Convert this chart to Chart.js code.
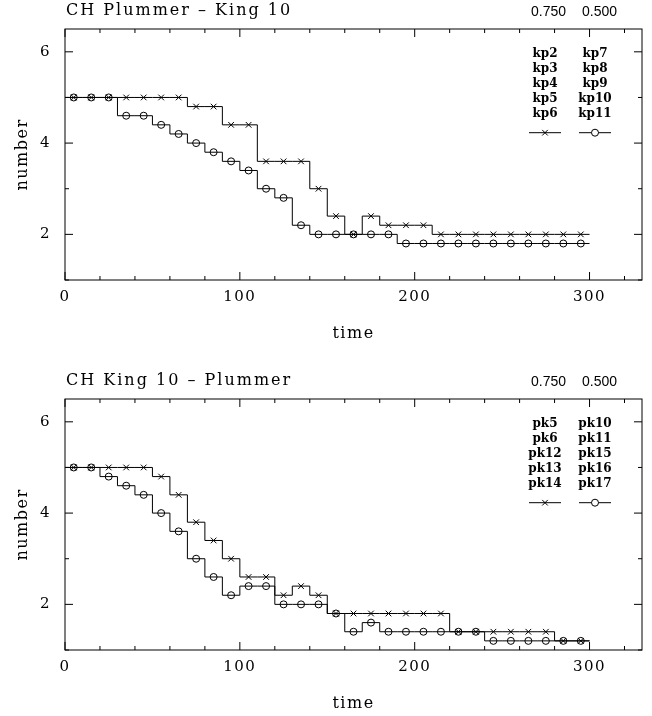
<!DOCTYPE html>
<html>
<head>
<meta charset="utf-8">
<title>CH Plummer - King 10</title>
<script src="https://cdn.jsdelivr.net/npm/chart.js"></script>
<style>
  body { margin: 0; background: #fff; }
  .panel { position: absolute; left: 0; width: 652px; height: 346px; }
</style>
</head>
<body>
<div class="panel" style="top:0"><canvas id="chartTop" width="652" height="346"></canvas></div>
<div class="panel" style="top:370px"><canvas id="chartBottom" width="652" height="346"></canvas></div>
<script>
// bin centres on the time axis, one value per 10-unit bin
const time = [5, 15, 25, 35, 45, 55, 65, 75, 85, 95, 105, 115, 125, 135, 145,
  155, 165, 175, 185, 195, 205, 215, 225, 235, 245, 255, 265, 275, 285, 295];
const binWidth = 10;

// CH Plummer - King 10
const kpCross = [5, 5, 5, 5, 5, 5, 5, 4.8, 4.8, 4.4, 4.4, 3.6, 3.6, 3.6, 3.0,
  2.4, 2.0, 2.4, 2.2, 2.2, 2.2, 2.0, 2.0, 2.0, 2.0, 2.0, 2.0, 2.0, 2.0, 2.0];
const kpCircle = [5, 5, 5, 4.6, 4.6, 4.4, 4.2, 4.0, 3.8, 3.6, 3.4, 3.0, 2.8, 2.2, 2.0,
  2.0, 2.0, 2.0, 2.0, 1.8, 1.8, 1.8, 1.8, 1.8, 1.8, 1.8, 1.8, 1.8, 1.8, 1.8];

// CH King 10 - Plummer
const pkCross = [5, 5, 5, 5, 5, 4.8, 4.4, 3.8, 3.4, 3.0, 2.6, 2.6, 2.2, 2.4, 2.2,
  1.8, 1.8, 1.8, 1.8, 1.8, 1.8, 1.8, 1.4, 1.4, 1.4, 1.4, 1.4, 1.4, 1.2, 1.2];
const pkCircle = [5, 5, 4.8, 4.6, 4.4, 4.0, 3.6, 3.0, 2.6, 2.2, 2.4, 2.4, 2.0, 2.0, 2.0,
  1.8, 1.4, 1.6, 1.4, 1.4, 1.4, 1.4, 1.4, 1.4, 1.2, 1.2, 1.2, 1.2, 1.2, 1.2];

const kpNames = [["kp2", "kp3", "kp4", "kp5", "kp6"], ["kp7", "kp8", "kp9", "kp10", "kp11"]];
const pkNames = [["pk5", "pk6", "pk12", "pk13", "pk14"], ["pk10", "pk11", "pk15", "pk16", "pk17"]];
const fractions = ["0.750", "0.500"];

const xLabels = [0, 100, 200, 300];
const yLabels = [2, 4, 6];

const SERIF = '"DejaVu Serif", serif';
Chart.defaults.font.family = SERIF;
Chart.defaults.color = "#000";

// bin edges so the step line spans the full width of every bin
function stepLine(values) {
  const pts = values.map((v, i) => ({ x: time[i] - binWidth / 2, y: v }));
  pts.push({ x: time[time.length - 1] + binWidth / 2, y: values[values.length - 1] });
  return pts;
}
function markers(values) {
  return values.map((v, i) => ({ x: time[i], y: v }));
}

const framePlugin = {
  id: "frame",
  beforeDraw(chart) {
    chart.ctx.letterSpacing = "1.5px";
  },
  afterDatasetsDraw(chart) {
    const { ctx, chartArea: a, scales } = chart;
    ctx.save();
    ctx.strokeStyle = "#000";
    ctx.lineWidth = 1;
    ctx.strokeRect(a.left, a.top, a.right - a.left, a.bottom - a.top);
    ctx.beginPath();
    const xs = scales.x;
    for (let v = xs.min; v <= xs.max; v += 20) {
      const px = xs.getPixelForValue(v);
      const len = v % 100 === 0 ? 8 : 4;
      ctx.moveTo(px, a.bottom); ctx.lineTo(px, a.bottom - len);
      ctx.moveTo(px, a.top); ctx.lineTo(px, a.top + len);
    }
    const ys = scales.y;
    for (let v = Math.ceil(ys.min); v <= ys.max; v += 1) {
      const py = ys.getPixelForValue(v);
      const len = v % 2 === 0 ? 8 : 4;
      ctx.moveTo(a.left, py); ctx.lineTo(a.left + len, py);
      ctx.moveTo(a.right, py); ctx.lineTo(a.right - len, py);
    }
    ctx.stroke();
    ctx.restore();
  },
  afterDraw(chart, args, opts) {
    const { ctx, chartArea: a } = chart;
    ctx.save();
    ctx.fillStyle = "#000";
    // title
    ctx.letterSpacing = "2px";
    ctx.font = "16px " + SERIF;
    ctx.textAlign = "left";
    ctx.textBaseline = "alphabetic";
    ctx.fillText(opts.title, a.left + 1, a.top - 14);
    // fractions above the legend columns
    ctx.letterSpacing = "0px";
    ctx.font = '14px "Liberation Sans", sans-serif';
    ctx.textAlign = "center";
    ctx.textBaseline = "middle";
    ctx.fillText(fractions[0], a.right - 93.5, a.top - 17);
    ctx.fillText(fractions[1], a.right - 42.5, a.top - 17);
    // legend names
    ctx.font = "bold 12px " + SERIF;
    const cols = [a.right - 97, a.right - 47];
    opts.names.forEach((col, c) => {
      col.forEach((n, r) => ctx.fillText(n, cols[c], a.top + 24.5 + r * 15.2));
    });
    // legend samples
    const ly = a.top + 103.7;
    ctx.strokeStyle = "#000";
    ctx.lineWidth = 1;
    cols.forEach((cx, c) => {
      ctx.beginPath();
      ctx.moveTo(cx - 16, ly); ctx.lineTo(cx + 16, ly);
      ctx.stroke();
      ctx.beginPath();
      if (c === 0) {
        ctx.moveTo(cx - 2.8, ly - 2.8); ctx.lineTo(cx + 2.8, ly + 2.8);
        ctx.moveTo(cx - 2.8, ly + 2.8); ctx.lineTo(cx + 2.8, ly - 2.8);
        ctx.stroke();
      } else {
        ctx.fillStyle = "#fff";
        ctx.arc(cx, ly, 3.5, 0, Math.PI * 2);
        ctx.fill();
        ctx.stroke();
      }
    });
    ctx.restore();
  }
};

function makeChart(id, title, names, cross, circle) {
  return new Chart(document.getElementById(id), {
    type: "line",
    data: {
      datasets: [
        {
          data: markers(cross),
          showLine: false,
          pointStyle: "crossRot",
          pointRadius: 4,
          pointBorderColor: "#000",
          pointBorderWidth: 1,
        },
        {
          data: markers(circle),
          showLine: false,
          pointStyle: "circle",
          pointRadius: 3.5,
          pointBackgroundColor: "rgba(0,0,0,0)",
          pointBorderColor: "#000",
          pointBorderWidth: 1,
        },
        {
          data: stepLine(cross),
          stepped: true,
          borderColor: "#000",
          borderWidth: 1,
          pointRadius: 0,
        },
        {
          data: stepLine(circle),
          stepped: true,
          borderColor: "#000",
          borderWidth: 1,
          pointRadius: 0,
        },
      ],
    },
    options: {
      responsive: false,
      animation: false,
      events: [],
      layout: { padding: { left: 0, right: 10, top: 29, bottom: 0 } },
      plugins: {
        legend: { display: false },
        tooltip: { enabled: false },
        frame: { title, names },
      },
      scales: {
        x: {
          type: "linear",
          min: 0,
          max: 330,
          grid: { display: false, drawTicks: false },
          border: { display: false },
          ticks: {
            stepSize: 20,
            autoSkip: false,
            maxRotation: 0,
            padding: 8,
            font: { size: 15 },
            callback: (v) => (xLabels.includes(v) ? String(v) : ""),
          },
          title: { display: true, text: "time", font: { size: 16 }, padding: { top: 0, bottom: 3 } },
          afterFit: (s) => { s.height = 66; },
        },
        y: {
          min: 1,
          max: 6.5,
          grid: { display: false, drawTicks: false },
          border: { display: false },
          ticks: {
            stepSize: 1,
            autoSkip: false,
            padding: 14,
            font: { size: 15 },
            callback: (v) => (yLabels.includes(v) ? String(v) : ""),
          },
          title: { display: true, text: "number", font: { size: 16 }, padding: { top: 13, bottom: 0 } },
          afterFit: (s) => { s.width = 65; },
        },
      },
    },
    plugins: [framePlugin],
  });
}

makeChart("chartTop", "CH Plummer \u2013 King 10", kpNames, kpCross, kpCircle);
makeChart("chartBottom", "CH King 10 \u2013 Plummer", pkNames, pkCross, pkCircle);
</script>
</body>
</html>
